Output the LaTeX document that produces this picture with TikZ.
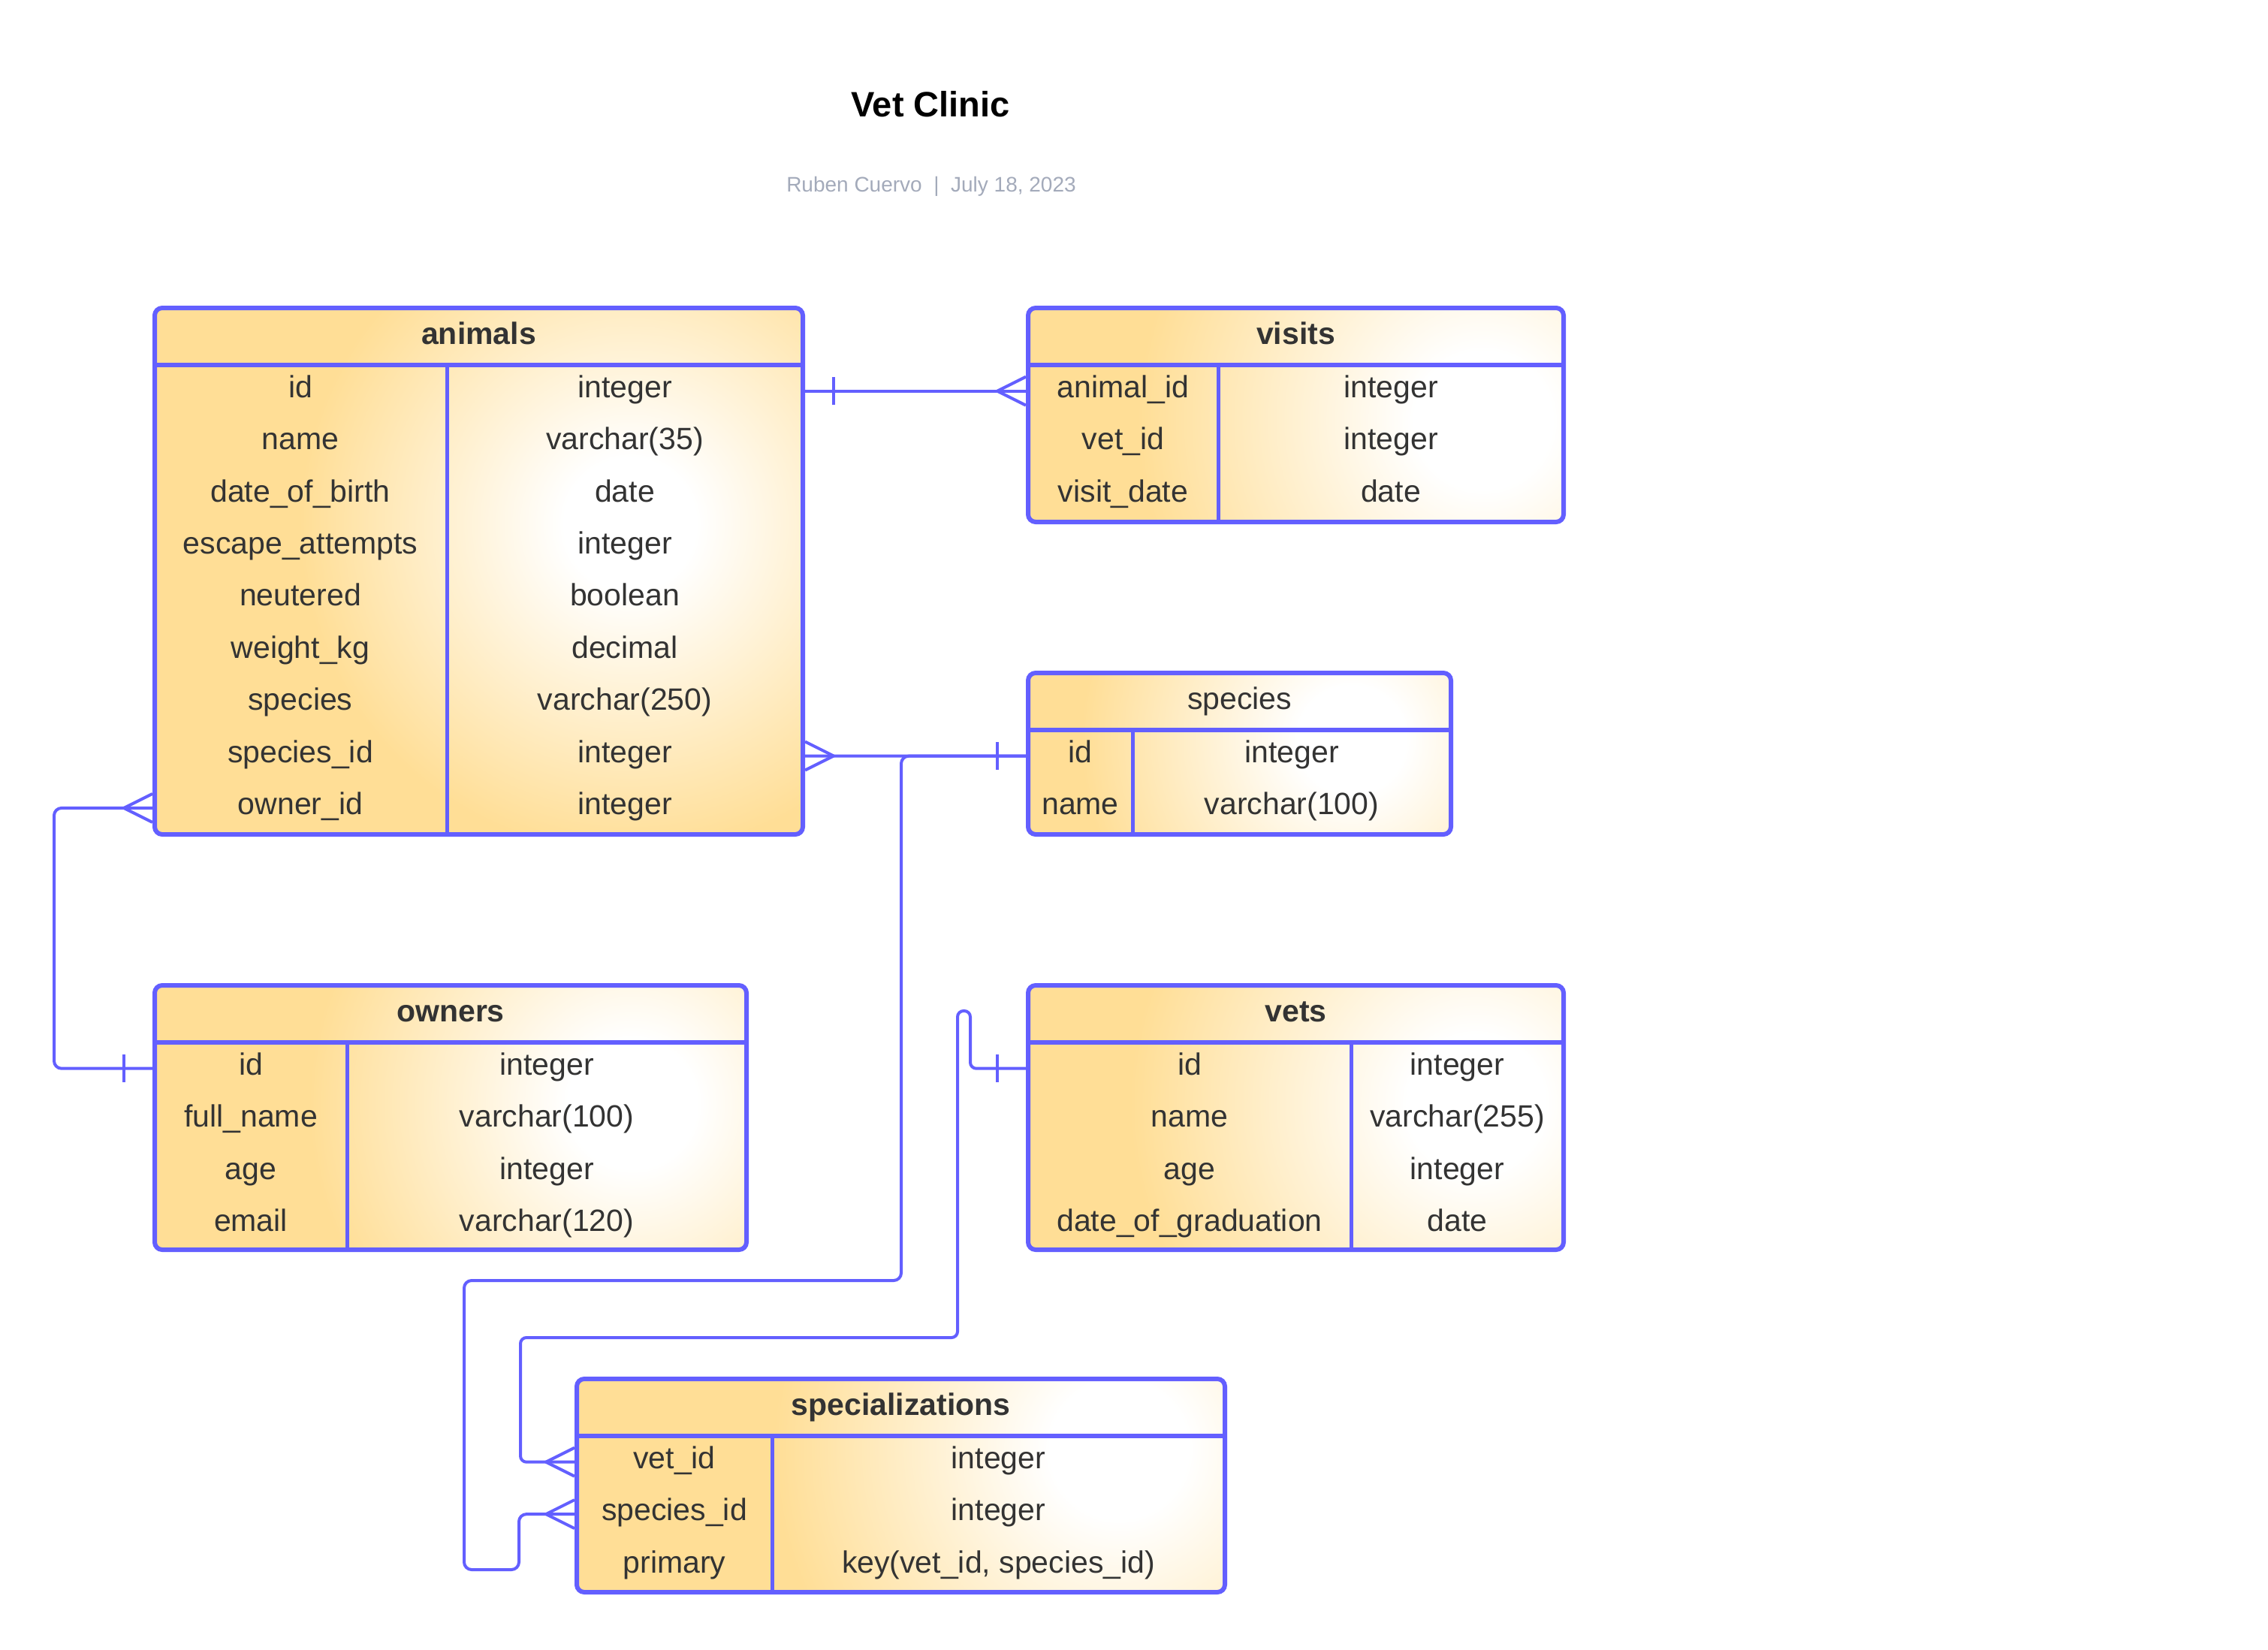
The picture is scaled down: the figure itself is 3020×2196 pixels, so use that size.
\documentclass[tikz,border=0pt]{standalone}
\usepackage{fontspec}
\setmainfont{Liberation Sans}
\usetikzlibrary{calc}
\definecolor{erblue}{RGB}{99,95,255}
\definecolor{tabY}{RGB}{255,222,150}
\definecolor{txt}{RGB}{51,51,51}
\definecolor{subgray}{RGB}{163,170,186}
\pgfdeclareradialshading{tblshade}{\pgfpointorigin}{color(0bp)=(white); color(5bp)=(white); color(25bp)=(tabY); color(50bp)=(tabY)}
\tikzset{
  tbl/.style={draw=erblue, line width=6pt, rounded corners=10pt},
  tblline/.style={draw=erblue, line width=6pt},
  divline/.style={draw=erblue, line width=5pt},
  cell/.style={font=\fontsize{41}{49}\selectfont, text=txt, inner sep=0pt, text height=30pt, text depth=13pt},
  hdr/.style={font=\fontsize{41}{49}\selectfont, text=txt, inner sep=0pt, text height=30pt, text depth=10pt},
  hdrb/.style={hdr, font=\fontsize{41}{49}\selectfont\bfseries},
  conn/.style={draw=erblue, line width=4pt},
  crowW/.pic={\draw[conn] (-38,0) -- (0,-19) (-38,0) -- (0,19);},
  crowE/.pic={\draw[conn] (38,0) -- (0,-19) (38,0) -- (0,19);},
  tickW/.pic={\draw[conn] (-38,-18.5) -- (-38,18.5);},
  tickE/.pic={\draw[conn] (38,-18.5) -- (38,18.5);}
}
\newcommand\errows[5]{%
  \foreach [count=\i] \f/\t in {#5} {
    \pgfmathsetmacro\yy{#2+69.4*(\i-0.5)}
    \node[cell] (#1-\i) at (#3,\yy) {\f};
    \node[cell] (#1-\i-t) at (#4,\yy) {\t};
  }}
\newcommand\tblbg[7]{%
  \begin{scope}
    \clip[rounded corners=10pt] (#1,#2) rectangle (#3,#4);
    \fill[tabY] (#1,#2) rectangle (#3,#4);
    \shade[shading=tblshade] (#5,#6) circle (#7);
  \end{scope}}
\newcommand\pkey{key(vet\_id, species\_id)}
\begin{document}
\begin{tikzpicture}[x=1pt,y=-1pt]
\useasboundingbox (0,0) rectangle (3020,2196);

% title
\node[anchor=base, font=\fontsize{47}{56}\selectfont\bfseries, text=black, inner sep=0pt] (title) at (1239,155) {Vet Clinic};
\node[anchor=base, font=\fontsize{28}{34}\selectfont, text=subgray, inner sep=0pt] (subtitle) at (1240,255) {Ruben Cuervo\ \ |\ \ July 18, 2023};

% animals
\tblbg{206}{410}{1069}{1111}{839}{698}{440pt}
\node[tbl, minimum width=863pt, minimum height=701pt] (animals) at (637.5,760.5) {};
\draw[tblline] (206,486) -- (1069,486);
\draw[divline] (595,486) -- (595,1111);
\node[hdrb] (animals-h) at (637.5,448) {animals};
\errows{animals}{486}{400}{832}{id/integer, name/varchar(35), date\_of\_birth/date, escape\_attempts/integer, neutered/boolean, weight\_kg/decimal, species/varchar(250), species\_id/integer, owner\_id/integer}

% visits
\tblbg{1369}{410}{2082}{695}{1975}{560}{460pt}
\node[tbl, minimum width=713pt, minimum height=285pt] (visits) at (1725.5,552.5) {};
\draw[tblline] (1369,486) -- (2082,486);
\draw[divline] (1622,486) -- (1622,695);
\node[hdrb] (visits-h) at (1725.5,448) {visits};
\errows{visits}{486}{1495.5}{1852}{animal\_id/integer, vet\_id/integer, visit\_date/date}

% species
\tblbg{1369}{896}{1932}{1111}{1800}{985}{360pt}
\node[tbl, minimum width=563pt, minimum height=215pt] (species) at (1650.5,1003.5) {};
\draw[tblline] (1369,972) -- (1932,972);
\draw[divline] (1508,972) -- (1508,1111);
\node[hdr] (species-h) at (1650.5,934) {species};
\errows{species}{972}{1438.5}{1720}{id/integer, name/varchar(100)}

% owners
\tblbg{206}{1312}{994}{1664}{842}{1470}{430pt}
\node[tbl, minimum width=788pt, minimum height=352pt] (owners) at (600,1488) {};
\draw[tblline] (206,1388) -- (994,1388);
\draw[divline] (462,1388) -- (462,1664);
\node[hdrb] (owners-h) at (600,1350) {owners};
\errows{owners}{1388}{334}{728}{id/integer, full\_name/varchar(100), age/integer, email/varchar(120)}

% vets
\tblbg{1369}{1312}{2082}{1664}{1965}{1470}{460pt}
\node[tbl, minimum width=713pt, minimum height=352pt] (vets) at (1725.5,1488) {};
\draw[tblline] (1369,1388) -- (2082,1388);
\draw[divline] (1799,1388) -- (1799,1664);
\node[hdrb] (vets-h) at (1725.5,1350) {vets};
\errows{vets}{1388}{1584}{1940.5}{id/integer, name/varchar(255), age/integer, date\_of\_graduation/date}

% specializations
\tblbg{768}{1836}{1631}{2120}{1490}{1930}{460pt}
\node[tbl, minimum width=863pt, minimum height=284pt] (specializations) at (1199.5,1978) {};
\draw[tblline] (768,1912) -- (1631,1912);
\draw[divline] (1028,1912) -- (1028,2120);
\node[hdrb] (specializations-h) at (1199.5,1874) {specializations};
\errows{specializations}{1912}{898}{1329.5}{vet\_id/integer, species\_id/integer, primary/\pkey}

% connectors
\draw[conn] (animals.east |- animals-1) -- (visits.west |- visits-1);
\pic at (animals.east |- animals-1) {tickE};
\pic at (visits.west |- visits-1) {crowW};

\draw[conn] (species.west |- species-1) -- (animals.east |- animals-8);
\pic at (species.west |- species-1) {tickW};
\pic at (animals.east |- animals-8) {crowE};

\draw[conn, rounded corners=10pt] (species.west |- species-1) -| (1200,1705) -- (618,1705) -- (618,2090) -- (691,2090) |- (specializations.west |- specializations-2);
\pic at (specializations.west |- specializations-2) {crowW};

\draw[conn, rounded corners=8pt] (vets.west |- vets-1) -| (1292,1346) -- (1275,1346) -- (1275,1781) -- (693,1781) |- (specializations.west |- specializations-1);
\pic at (vets.west |- vets-1) {tickW};
\pic at (specializations.west |- specializations-1) {crowW};

\draw[conn, rounded corners=10pt] (animals.west |- animals-9) -- ++(-131,0) |- (owners.west |- owners-1);
\pic at (animals.west |- animals-9) {crowW};
\pic at (owners.west |- owners-1) {tickW};
\end{tikzpicture}
\end{document}
